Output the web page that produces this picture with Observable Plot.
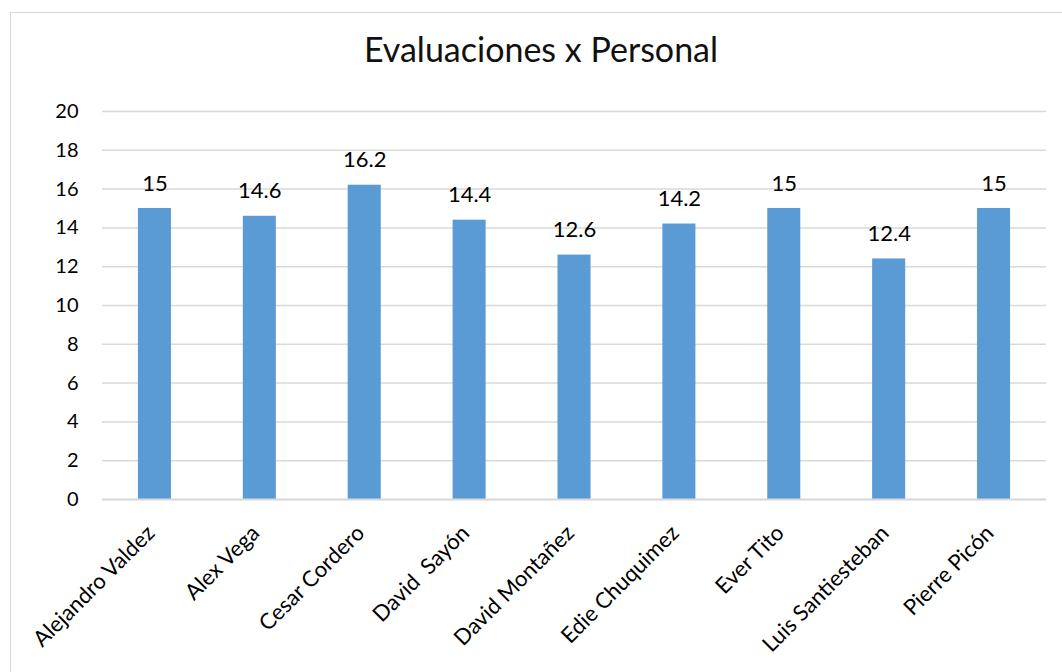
<!DOCTYPE html>
<html><head><meta charset="utf-8">
<script src="https://cdn.jsdelivr.net/npm/d3@7"></script>
<script src="https://cdn.jsdelivr.net/npm/@observablehq/plot@0.6"></script>
<style>
body{margin:0;background:#fff;overflow:hidden;font-family:Lato,"Open Sans",sans-serif;}
#wrap{position:relative;width:1062px;height:672px;}
#border{position:absolute;left:10px;top:12px;width:1070px;height:700px;border:1.5px solid #d9d9d9;box-sizing:border-box;}
#title{position:absolute;left:10px;width:1062px;top:27px;text-align:center;font-size:34px;line-height:44px;color:#111;}
#chart{position:absolute;left:0;top:80px;}
#chart svg text{white-space:pre;}
</style></head>
<body><div id="wrap"><div id="border"></div><div id="title">Evaluaciones x Personal</div><div id="chart"></div></div>
<script>
const names = ["Alejandro Valdez","Alex Vega","Cesar Cordero","David  Sayón","David Montañez","Edie Chuquimez","Ever Tito","Luis Santiesteban","Pierre Picón"];
const scores = [15,14.6,16.2,14.4,12.6,14.2,15,12.4,15];
const yTicks = [0,2,4,6,8,10,12,14,16,18,20];
const data = names.map((n,i)=>({name:n, value:scores[i]}));
const chart = Plot.plot({
  width:1062, height:592,
  marginTop:31, marginBottom:173, marginLeft:102, marginRight:16,
  style:{fontFamily:"Lato, 'Open Sans', sans-serif", fontSize:"20px", color:"#000", background:"transparent"},
  x:{domain:names, paddingInner:0.685, paddingOuter:0.3425, round:false, label:null},
  y:{domain:[0,20], label:null},
  marks:[
    Plot.gridY(yTicks,{stroke:"#d9d9d9", strokeOpacity:1, strokeWidth:1.5}),
    Plot.barY(data,{x:"name", y:"value", fill:"#5B9BD5"}),
    Plot.ruleY([0],{stroke:"#d9d9d9", strokeWidth:2}),
    Plot.text(data,{x:"name", y:"value", text:d=>String(d.value), dy:-25, fontSize:22, fill:"#000"}),
    Plot.axisY({ticks:yTicks, tickSize:0, tickPadding:24, fontSize:20, label:null}),
    Plot.axisX({tickSize:0, tickRotate:-45, tickPadding:30, dx:-4, fontSize:22, label:null})
  ]
});
document.getElementById("chart").appendChild(chart);
</script></body></html>
